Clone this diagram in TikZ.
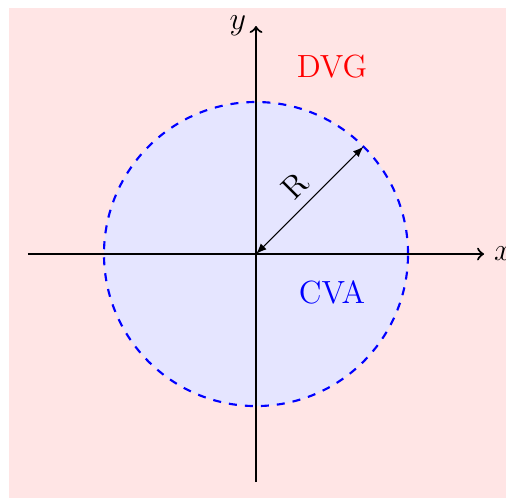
\documentclass[tikz,border=0pt]{standalone}
\usetikzlibrary{arrows}
\begin{document}
\begin{tikzpicture}[x=1cm,y=1cm,
  axis/.style={thick,->},
  lbl/.style={font=\large}]
\useasboundingbox (-3.368,-3.197) rectangle (3.289,3.342);
\fill[red!10] (-3.245,-3.3) rectangle (3.4,3.237);
\fill[blue!10] (0,0) circle (2);
\draw[blue,thick,dashed] (0,0) circle (2);
\coordinate (o) at (0,0);
\coordinate (xs) at (-3,0);
\coordinate (xe) at (3,0);
\coordinate (ys) at (0,-3);
\coordinate (ye) at (0,3);
\coordinate (rp) at (45:2);
\draw[axis] (xs) -- (xe) node[right,lbl] {$x$};
\draw[axis] (ys) -- (ye) node[left,lbl] {$y$};
\draw[latex-latex] (o) -- (rp) node[midway,above,sloped,lbl] {R};
\node[red,lbl] (dvg) at (1,2.46) {DVG};
\node[blue,lbl] (cva) at (1,-0.5) {CVA};
\end{tikzpicture}
\end{document}
